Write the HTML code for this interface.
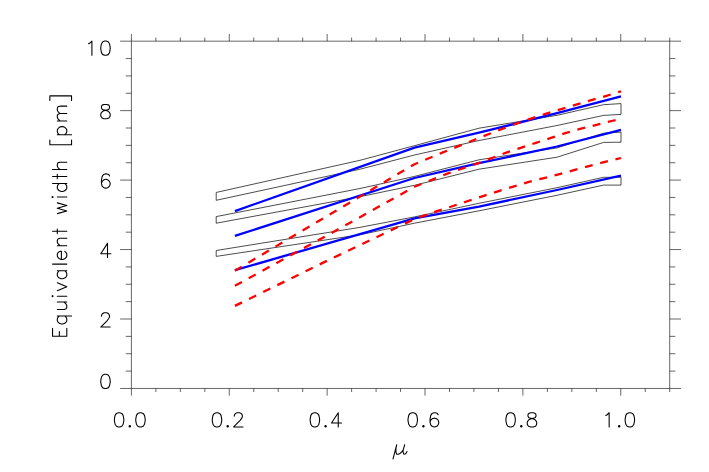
<!DOCTYPE html>
<html><head><meta charset="utf-8"><title>Equivalent width vs mu</title>
<style>
html,body{margin:0;padding:0;background:#fff;}
body{width:709px;height:472px;overflow:hidden;font-family:"Liberation Sans",sans-serif;}
svg{display:block}
</style></head><body>
<svg width="709" height="472" viewBox="0 0 709 472">
<rect width="709" height="472" fill="#fff"/>
<g fill="none" stroke="#000" stroke-width="0.7" stroke-linejoin="miter">
<path d="M216.2 192.45 L360 160.3 L414.5 145.7 L479 128.2 L557 115.3 L603.6 104.7 L621 103.6 L621 114.4 L603.6 115.4 L557 125.5 L479 140.5 L414.5 155 L360 169.2 L216.2 200.3 Z M216.2 216.6 L360 188.5 L414.5 176.4 L479 159.8 L557 147.9 L603.6 133.2 L621 132.1 L621 142.2 L603.6 142.4 L557 157.2 L479 169.2 L414.5 185.3 L360 196.7 L216.2 223.2 Z M216.2 250.5 L360 227.35 L414.5 216.9 L479 203.3 L557 187.7 L603.6 177.3 L621 177.3 L621 185.1 L603.6 185.1 L557 195.3 L479 210.8 L414.5 223.2 L360 234.76 L216.2 256.4 Z"/>
</g>
<g fill="none" stroke="#0000ff" stroke-width="2.3" stroke-linejoin="round" stroke-linecap="butt">
<path d="M234.9 211.1 L414.5 147.7 L479 132.7 L557 113.2 L621 96.3"/>
<path d="M234.9 235.9 L414.5 178 L479 163.2 L557 146.5 L621 129.8"/>
<path d="M234.9 270.2 L414.5 218.4 L479 206.6 L557 190 L621 175.6"/>
</g>
<g fill="none" stroke="#ff0000" stroke-width="2.3" stroke-linejoin="round" stroke-linecap="butt" stroke-dasharray="7.97 7.77">
<path d="M234.9 270.7 L414.5 164.2 L442.9 152.4 L479 137.9 L501.4 129.2 L516.3 123.6 L531 118.6 L545.4 113.9 L557 110.4 L576.1 104.7 L591.4 100.2 L606.6 95.8 L621 91.3"/>
<path d="M234.9 285.8 L334.7 231.2 L414.5 186.8 L446.6 173.9 L479 162.9 L505.6 152.9 L520.8 147.8 L536 142.8 L551 137.9 L566 132.9 L581 128.6 L596.4 124.9 L611.7 121 L621 118.8"/>
<path d="M234.9 305.9 L323.7 262.4 L414.5 219 L437.8 210.8 L453 206 L468 201 L483 196.1 L497.9 191.3 L528 182.1 L543 178.3 L558.5 174.3 L573.8 170.2 L588.8 166.1 L604 162.2 L621 158"/>
</g>
<g fill="none" stroke="#000" stroke-width="0.6" stroke-linecap="butt" stroke-linejoin="miter">
<path d="M131.4 41.18 H669.7 V388.46 H131.4 Z M131.4 388.46 v7.2 M131.4 41.18 v-7.2 M155.87 388.46 v3.6 M155.87 41.18 v-3.6 M180.34 388.46 v3.6 M180.34 41.18 v-3.6 M204.8 388.46 v3.6 M204.8 41.18 v-3.6 M229.27 388.46 v7.2 M229.27 41.18 v-7.2 M253.74 388.46 v3.6 M253.74 41.18 v-3.6 M278.21 388.46 v3.6 M278.21 41.18 v-3.6 M302.68 388.46 v3.6 M302.68 41.18 v-3.6 M327.15 388.46 v7.2 M327.15 41.18 v-7.2 M351.61 388.46 v3.6 M351.61 41.18 v-3.6 M376.08 388.46 v3.6 M376.08 41.18 v-3.6 M400.55 388.46 v3.6 M400.55 41.18 v-3.6 M425.02 388.46 v7.2 M425.02 41.18 v-7.2 M449.49 388.46 v3.6 M449.49 41.18 v-3.6 M473.95 388.46 v3.6 M473.95 41.18 v-3.6 M498.42 388.46 v3.6 M498.42 41.18 v-3.6 M522.89 388.46 v7.2 M522.89 41.18 v-7.2 M547.36 388.46 v3.6 M547.36 41.18 v-3.6 M571.83 388.46 v3.6 M571.83 41.18 v-3.6 M596.3 388.46 v3.6 M596.3 41.18 v-3.6 M620.76 388.46 v7.2 M620.76 41.18 v-7.2 M645.23 388.46 v3.6 M645.23 41.18 v-3.6 M669.7 388.46 v3.6 M669.7 41.18 v-3.6 M131.4 388.46 h-11.3 M669.7 388.46 h11.3 M131.4 371.1 h-5.65 M669.7 371.1 h5.65 M131.4 353.73 h-5.65 M669.7 353.73 h5.65 M131.4 336.37 h-5.65 M669.7 336.37 h5.65 M131.4 319 h-11.3 M669.7 319 h11.3 M131.4 301.64 h-5.65 M669.7 301.64 h5.65 M131.4 284.28 h-5.65 M669.7 284.28 h5.65 M131.4 266.91 h-5.65 M669.7 266.91 h5.65 M131.4 249.55 h-11.3 M669.7 249.55 h11.3 M131.4 232.18 h-5.65 M669.7 232.18 h5.65 M131.4 214.82 h-5.65 M669.7 214.82 h5.65 M131.4 197.46 h-5.65 M669.7 197.46 h5.65 M131.4 180.09 h-11.3 M669.7 180.09 h11.3 M131.4 162.73 h-5.65 M669.7 162.73 h5.65 M131.4 145.36 h-5.65 M669.7 145.36 h5.65 M131.4 128 h-5.65 M669.7 128 h5.65 M131.4 110.64 h-11.3 M669.7 110.64 h11.3 M131.4 93.27 h-5.65 M669.7 93.27 h5.65 M131.4 75.91 h-5.65 M669.7 75.91 h5.65 M131.4 58.54 h-5.65 M669.7 58.54 h5.65 M131.4 41.18 h-11.3 M669.7 41.18 h11.3"/>
</g>
<g fill="none" stroke="#000" stroke-width="1.08" stroke-linecap="round" stroke-linejoin="round">
<path d="M118.45 412.71 L116.43 413.39 L115.09 415.42 L114.42 418.81 L114.42 420.85 L115.09 424.24 L116.43 426.27 L118.45 426.95 L119.79 426.95 L121.81 426.27 L123.15 424.24 L123.82 420.85 L123.82 418.81 L123.15 415.42 L121.81 413.39 L119.79 412.71 L118.45 412.71 M130.51 426.27 L130.3 425.77 L129.8 425.56 L129.3 425.77 L129.09 426.27 L129.3 426.77 L129.8 426.98 L130.3 426.77 L130.51 426.27 L129.8 426.27 M139.81 412.71 L137.79 413.39 L136.45 415.42 L135.78 418.81 L135.78 420.85 L136.45 424.24 L137.79 426.27 L139.81 426.95 L141.15 426.95 L143.17 426.27 L144.51 424.24 L145.18 420.85 L145.18 418.81 L144.51 415.42 L143.17 413.39 L141.15 412.71 L139.81 412.71 M216.32 412.71 L214.3 413.39 L212.96 415.42 L212.29 418.81 L212.29 420.85 L212.96 424.24 L214.3 426.27 L216.32 426.95 L217.66 426.95 L219.68 426.27 L221.02 424.24 L221.7 420.85 L221.7 418.81 L221.02 415.42 L219.68 413.39 L217.66 412.71 L216.32 412.71 M228.38 426.27 L228.17 425.77 L227.67 425.56 L227.18 425.77 L226.97 426.27 L227.18 426.77 L227.67 426.98 L228.17 426.77 L228.38 426.27 L227.67 426.27 M234.32 416.1 L234.32 415.42 L234.99 414.07 L235.66 413.39 L237.01 412.71 L239.7 412.71 L241.04 413.39 L241.71 414.07 L242.38 415.42 L242.38 416.78 L241.71 418.14 L240.37 420.17 L233.65 426.95 L243.06 426.95 M314.19 412.71 L312.18 413.39 L310.83 415.42 L310.16 418.81 L310.16 420.85 L310.83 424.24 L312.18 426.27 L314.19 426.95 L315.54 426.95 L317.55 426.27 L318.9 424.24 L319.57 420.85 L319.57 418.81 L318.9 415.42 L317.55 413.39 L315.54 412.71 L314.19 412.71 M326.25 426.27 L326.04 425.77 L325.55 425.56 L325.05 425.77 L324.84 426.27 L325.05 426.77 L325.55 426.98 L326.04 426.77 L326.25 426.27 L325.55 426.27 M338.24 412.71 L331.52 423.02 L341.6 423.02 M338.24 412.71 L338.24 426.95 M412.07 412.71 L410.05 413.39 L408.71 415.42 L408.03 418.81 L408.03 420.85 L408.71 424.24 L410.05 426.27 L412.07 426.95 L413.41 426.95 L415.43 426.27 L416.77 424.24 L417.44 420.85 L417.44 418.81 L416.77 415.42 L415.43 413.39 L413.41 412.71 L412.07 412.71 M424.12 426.27 L423.92 425.77 L423.42 425.56 L422.92 425.77 L422.71 426.27 L422.92 426.77 L423.42 426.98 L423.92 426.77 L424.12 426.27 L423.42 426.27 M438.13 414.75 L437.46 413.39 L435.44 412.71 L434.1 412.71 L432.08 413.39 L430.74 415.42 L430.07 418.81 L430.07 422.2 L430.74 424.92 L432.08 426.27 L434.1 426.95 L434.77 426.95 L436.79 426.27 L438.13 424.92 L438.8 422.88 L438.8 422.2 L438.13 420.17 L436.79 418.81 L434.77 418.14 L434.1 418.14 L432.08 418.81 L430.74 420.17 L430.07 422.2 M509.94 412.71 L507.92 413.39 L506.58 415.42 L505.91 418.81 L505.91 420.85 L506.58 424.24 L507.92 426.27 L509.94 426.95 L511.28 426.95 L513.3 426.27 L514.64 424.24 L515.31 420.85 L515.31 418.81 L514.64 415.42 L513.3 413.39 L511.28 412.71 L509.94 412.71 M522 426.27 L521.79 425.77 L521.29 425.56 L520.79 425.77 L520.59 426.27 L520.79 426.77 L521.29 426.98 L521.79 426.77 L522 426.27 L521.29 426.27 M530.63 412.71 L528.61 413.39 L527.94 414.75 L527.94 416.1 L528.61 417.46 L529.95 418.14 L532.64 418.81 L534.66 419.49 L536 420.85 L536.67 422.2 L536.67 424.24 L536 425.59 L535.33 426.27 L533.31 426.95 L530.63 426.95 L528.61 426.27 L527.94 425.59 L527.27 424.24 L527.27 422.2 L527.94 420.85 L529.28 419.49 L531.3 418.81 L533.99 418.14 L535.33 417.46 L536 416.1 L536 414.75 L535.33 413.39 L533.31 412.71 L530.63 412.71 M605.8 415.42 L607.14 414.75 L609.16 412.71 L609.16 426.95 M619.87 426.27 L619.66 425.77 L619.16 425.56 L618.67 425.77 L618.46 426.27 L618.67 426.77 L619.16 426.98 L619.66 426.77 L619.87 426.27 L619.16 426.27 M629.17 412.71 L627.16 413.39 L625.81 415.42 L625.14 418.81 L625.14 420.85 L625.81 424.24 L627.16 426.27 L629.17 426.95 L630.52 426.95 L632.53 426.27 L633.88 424.24 L634.55 420.85 L634.55 418.81 L633.88 415.42 L632.53 413.39 L630.52 412.71 L629.17 412.71 M104.81 374.31 L102.79 374.99 L101.45 377.02 L100.78 380.41 L100.78 382.45 L101.45 385.84 L102.79 387.87 L104.81 388.55 L106.15 388.55 L108.17 387.87 L109.51 385.84 L110.18 382.45 L110.18 380.41 L109.51 377.02 L108.17 374.99 L106.15 374.31 L104.81 374.31 M101.45 316.21 L101.45 315.53 L102.12 314.17 L102.79 313.49 L104.14 312.82 L106.82 312.82 L108.17 313.49 L108.84 314.17 L109.51 315.53 L109.51 316.88 L108.84 318.24 L107.5 320.27 L100.78 327.05 L110.18 327.05 M107.5 243.36 L100.78 253.67 L110.86 253.67 M107.5 243.36 L107.5 257.6 M109.51 175.94 L108.84 174.58 L106.82 173.9 L105.48 173.9 L103.46 174.58 L102.12 176.62 L101.45 180.01 L101.45 183.4 L102.12 186.11 L103.46 187.46 L105.48 188.14 L106.15 188.14 L108.17 187.46 L109.51 186.11 L110.18 184.07 L110.18 183.4 L109.51 181.36 L108.17 180.01 L106.15 179.33 L105.48 179.33 L103.46 180.01 L102.12 181.36 L101.45 183.4 M104.14 104.45 L102.12 105.13 L101.45 106.48 L101.45 107.84 L102.12 109.19 L103.46 109.87 L106.15 110.55 L108.17 111.23 L109.51 112.58 L110.18 113.94 L110.18 115.97 L109.51 117.33 L108.84 118.01 L106.82 118.69 L104.14 118.69 L102.12 118.01 L101.45 117.33 L100.78 115.97 L100.78 113.94 L101.45 112.58 L102.79 111.23 L104.81 110.55 L107.5 109.87 L108.84 109.19 L109.51 107.84 L109.51 106.48 L108.84 105.13 L106.82 104.45 L104.14 104.45 M88.55 43.77 L89.9 43.1 L91.91 41.06 L91.91 55.3 M104.81 41.06 L102.79 41.74 L101.45 43.77 L100.78 47.16 L100.78 49.2 L101.45 52.59 L102.79 54.62 L104.81 55.3 L106.15 55.3 L108.17 54.62 L109.51 52.59 L110.18 49.2 L110.18 47.16 L109.51 43.77 L108.17 41.74 L106.15 41.06 L104.81 41.06 M52.56 336.18 L66.8 336.18 M52.56 336.18 L52.56 328.32 M59.34 336.18 L59.34 331.48 M66.8 336.18 L66.8 328.32 M57.31 315.96 L71.55 315.96 M59.34 315.96 L57.99 317.31 L57.31 318.65 L57.31 320.67 L57.99 322.01 L59.34 323.35 L61.38 324.03 L62.73 324.03 L64.77 323.35 L66.12 322.01 L66.8 320.67 L66.8 318.65 L66.12 317.31 L64.77 315.96 M57.31 309.43 L64.09 309.43 L66.12 308.75 L66.8 307.41 L66.8 305.39 L66.12 304.05 L64.09 302.03 M57.31 302.03 L66.8 302.03 M52.56 296.71 L53.1 296.17 L52.56 295.63 L52.02 296.17 L52.56 296.71 M57.31 296.17 L66.8 296.17 M57.31 290.76 L66.8 286.72 M57.31 282.69 L66.8 286.72 M57.31 270.72 L66.8 270.72 M59.34 270.72 L57.99 272.06 L57.31 273.41 L57.31 275.42 L57.99 276.77 L59.34 278.11 L61.38 278.78 L62.73 278.78 L64.77 278.11 L66.12 276.77 L66.8 275.42 L66.8 273.41 L66.12 272.06 L64.77 270.72 M52.56 264.1 L66.8 264.1 M61.38 259.43 L61.38 251.36 L60.02 251.36 L58.66 252.04 L57.99 252.71 L57.31 254.05 L57.31 256.07 L57.99 257.41 L59.34 258.76 L61.38 259.43 L62.73 259.43 L64.77 258.76 L66.12 257.41 L66.8 256.07 L66.8 254.05 L66.12 252.71 L64.77 251.36 M57.31 245.67 L66.8 245.67 M60.02 245.67 L57.99 243.65 L57.31 242.31 L57.31 240.29 L57.99 238.95 L60.02 238.28 L66.8 238.28 M52.56 231.31 L66.8 231.31 M57.31 233.59 L57.31 229.02 M57.31 213.62 L66.8 210.93 M57.31 208.24 L66.8 210.93 M57.31 208.24 L66.8 205.55 M57.31 202.87 L66.8 205.55 M52.56 197.55 L53.1 197.01 L52.56 196.47 L52.02 197.01 L52.56 197.55 M57.31 197.01 L66.8 197.01 M52.56 183.45 L66.8 183.45 M59.34 183.45 L57.99 184.8 L57.31 186.14 L57.31 188.16 L57.99 189.5 L59.34 190.85 L61.38 191.52 L62.73 191.52 L64.77 190.85 L66.12 189.5 L66.8 188.16 L66.8 186.14 L66.12 184.8 L64.77 183.45 M52.56 176.48 L66.8 176.48 M57.31 178.77 L57.31 174.2 M52.56 169.57 L66.8 169.57 M60.02 169.57 L57.99 167.56 L57.31 166.21 L57.31 164.2 L57.99 162.85 L60.02 162.18 L66.8 162.18 M49.85 144.75 L71.55 144.75 M49.85 144.75 L49.85 140.05 M71.55 144.75 L71.55 140.05 M57.31 134.69 L71.55 134.69 M59.34 134.69 L57.99 133.34 L57.31 132 L57.31 129.98 L57.99 128.64 L59.34 127.29 L61.38 126.62 L62.73 126.62 L64.77 127.29 L66.12 128.64 L66.8 129.98 L66.8 132 L66.12 133.34 L64.77 134.69 M57.31 120.94 L66.8 120.94 M60.02 120.94 L57.99 118.92 L57.31 117.58 L57.31 115.56 L57.99 114.22 L60.02 113.55 L66.8 113.55 M60.02 113.55 L57.99 111.53 L57.31 110.19 L57.31 108.17 L57.99 106.83 L60.02 106.15 L66.8 106.15 M49.85 95.87 L71.55 95.87 M49.85 100.57 L49.85 95.87 M71.55 100.57 L71.55 95.87 M396.73 444.68 L393.05 458.96 M396.73 444.68 L395.93 448.76 L395.93 452.16 L396.73 454.2 L398.33 454.2 L399.93 453.52 L401.53 452.16 L403.13 450.12 M404.73 444.68 L403.13 450.12 L403.13 452.16 L403.69 454.06 L404.97 454.2 L406.33 452.84 L406.97 451.48"/>
</g>
</svg>
</body></html>
